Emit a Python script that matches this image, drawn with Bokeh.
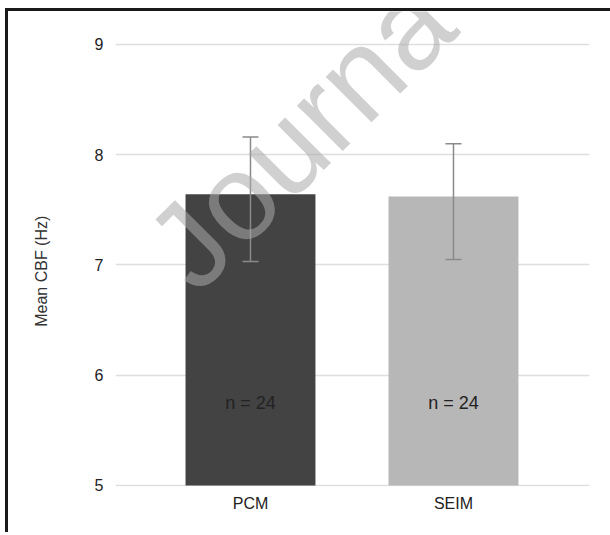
import math
from bokeh.plotting import figure
from bokeh.models import ColumnDataSource, Whisker, Range1d, FixedTicker, Label
from bokeh.core.properties import value
from bokeh.embed import file_html
from bokeh.resources import INLINE

categories = ["PCM", "SEIM"]
means = [7.64, 7.62]
upper = [8.16, 8.10]
lower = [7.03, 7.05]
n_labels = ["n = 24", "n = 24"]
colors = ["#434343", "#b7b7b7"]
y_ticks = [5, 6, 7, 8, 9]

xpos = list(range(len(categories)))
src = ColumnDataSource(dict(x=xpos, top=means, upper=upper, lower=lower,
                            color=colors, label=n_labels, ly=[5.75] * len(categories)))

OX, OY = 8, 11  # offset of the plot inside the page border
W, H = 610 - OX, 535 - OY - 3
PX_PER_UNIT = 110.5
p = figure(width=W, height=H, output_backend="svg", toolbar_location=None,
           x_range=Range1d(-0.665, 1.670), y_range=Range1d(4.99, 9 + (44 - OY) / PX_PER_UNIT),
           min_border_left=115 - OX, min_border_right=W - (589 - OX), min_border_top=0,
           min_border_bottom=H - (486 - OY))
p.outline_line_color = None
p.background_fill_color = "white"
p.border_fill_color = "white"
p.styles = {"box-shadow": "-1.5px -1.5px 0px 1.5px #1a1a1a", "background-color": "white",
            "overflow": "hidden", "vertical-align": "top",
            "margin-left": f"{OX}px", "margin-top": f"{OY}px"}

p.vbar(x="x", top="top", bottom=5, width=0.64, fill_color="color", line_color=None, source=src,
       level="underlay")

w = Whisker(base="x", upper="upper", lower="lower", source=src, line_color="#8a8a8a", line_width=1.5,
            level="glyph")
for h in (w.upper_head, w.lower_head):
    h.size = 16
    h.line_color = "#8a8a8a"
    h.line_width = 1.5
p.add_layout(w)

p.text(x="x", y="ly", text="label", source=src, text_align="center", text_baseline="middle",
       text_font=value("Liberation Sans"), text_font_size="18px", text_color="#222222", level="glyph")

p.xgrid.grid_line_color = None
p.ygrid.grid_line_color = "#dedede"
p.ygrid.grid_line_width = 1.5
p.ygrid.level = "image"
p.yaxis.ticker = FixedTicker(ticks=y_ticks)
p.xaxis.ticker = FixedTicker(ticks=xpos)
p.xaxis.major_label_overrides = {i: c for i, c in enumerate(categories)}

for ax in (p.xaxis[0], p.yaxis[0]):
    ax.axis_line_color = None
    ax.major_tick_line_color = None
    ax.minor_tick_line_color = None
    ax.major_label_text_font = "Liberation Sans"
    ax.major_label_text_font_size = "16px"
    ax.major_label_text_color = "#222222"
p.yaxis.major_label_standoff = 6
p.xaxis.major_label_standoff = 2

# trailing no-break spaces move the centred label down to the middle of the 5-9 span
p.yaxis.axis_label = "Mean CBF (Hz)" + "\u00a0" * 10
p.yaxis.axis_label_text_font = "Liberation Sans"
p.yaxis.axis_label_text_font_size = "16px"
p.yaxis.axis_label_text_font_style = "normal"
p.yaxis.axis_label_text_color = "#333333"
p.yaxis.axis_label_standoff = 42

wm = Label(x=-0.17, y=6.55, text="Journa", angle=math.pi / 4, level="annotation",
           text_font="Liberation Sans", text_font_size="122px", text_color="#a9a9a9", text_alpha=0.55)
p.add_layout(wm)

open("out.html", "w").write(file_html(p, INLINE))
